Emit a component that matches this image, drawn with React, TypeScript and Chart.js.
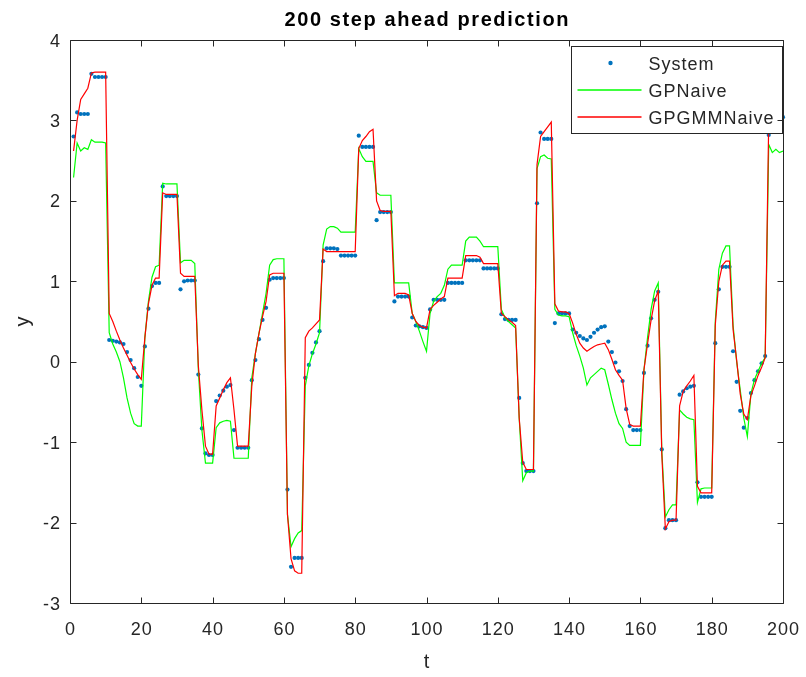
import React, { useEffect, useRef } from "react";
import { Chart, registerables } from "chart.js";

Chart.register(...registerables);

// time steps 1..200
const steps: number[] = Array.from({ length: 200 }, (_, i) => i + 1);

const systemY: number[] = [
  2.8, 3.1, 3.08, 3.08, 3.08, 3.58, 3.54, 3.54, 3.54, 3.54,
  0.27, 0.26, 0.25, 0.24, 0.22, 0.12, 0.02, -0.08, -0.19, -0.3,
  0.19, 0.66, 0.94, 0.98, 0.98, 2.18, 2.06, 2.06, 2.06, 2.06,
  0.9, 1.0, 1.01, 1.01, 1.01, -0.16, -0.83, -1.14, -1.16, -1.16,
  -0.49, -0.42, -0.36, -0.31, -0.29, -0.85, -1.07, -1.07, -1.07, -1.07,
  -0.23, 0.02, 0.28, 0.52, 0.67, 1.02, 1.04, 1.04, 1.04, 1.04,
  -1.59, -2.55, -2.44, -2.44, -2.44, -0.2, -0.04, 0.11, 0.24, 0.38,
  1.25, 1.41, 1.41, 1.41, 1.4, 1.32, 1.32, 1.32, 1.32, 1.32,
  2.81, 2.67, 2.67, 2.67, 2.67, 1.76, 1.86, 1.86, 1.86, 1.86,
  0.75, 0.81, 0.81, 0.81, 0.81, 0.55, 0.45, 0.44, 0.43, 0.42,
  0.65, 0.77, 0.77, 0.77, 0.77, 0.98, 0.98, 0.98, 0.98, 0.98,
  1.26, 1.26, 1.26, 1.26, 1.26, 1.16, 1.16, 1.16, 1.16, 1.16,
  0.59, 0.53, 0.52, 0.52, 0.52, -0.45, -1.26, -1.36, -1.36, -1.36,
  1.97, 2.85, 2.77, 2.77, 2.77, 0.48, 0.6, 0.6, 0.6, 0.6,
  0.4, 0.36, 0.32, 0.29, 0.27, 0.31, 0.36, 0.4, 0.43, 0.44,
  0.25, 0.12, -0.01, -0.12, -0.24, -0.59, -0.8, -0.85, -0.85, -0.85,
  -0.14, 0.2, 0.54, 0.77, 0.87, -1.09, -2.07, -1.97, -1.97, -1.97,
  -0.41, -0.37, -0.33, -0.31, -0.3, -1.5, -1.68, -1.68, -1.68, -1.68,
  0.23, 0.9, 1.18, 1.18, 1.18, 0.13, -0.25, -0.61, -0.82, -0.7,
  -0.39, -0.23, -0.12, -0.02, 0.07, 2.82, 3.0, 3.03, 3.04, 3.04,
];

const gpNaive: number[] = [
  2.29, 2.72, 2.62, 2.66, 2.64, 2.76, 2.73, 2.73, 2.73, 2.72,
  0.36, 0.22, 0.12, 0.0, -0.2, -0.45, -0.64, -0.77, -0.8, -0.8,
  0.3, 0.75, 1.05, 1.18, 1.2, 2.22, 2.21, 2.21, 2.21, 2.21,
  1.23, 1.26, 1.26, 1.26, 1.22, -0.1, -0.85, -1.26, -1.26, -1.26,
  -0.82, -0.76, -0.74, -0.73, -0.74, -1.2, -1.2, -1.2, -1.2, -1.2,
  -0.2, 0.1, 0.35, 0.6, 0.85, 1.2, 1.27, 1.28, 1.28, 1.28,
  -1.9, -2.3, -2.2, -2.13, -2.1, -0.3, -0.05, 0.1, 0.22, 0.36,
  1.45, 1.65, 1.68, 1.68, 1.66, 1.61, 1.61, 1.61, 1.61, 1.61,
  2.65, 2.55, 2.49, 2.49, 2.49, 2.1, 2.07, 2.07, 2.07, 2.07,
  0.98, 0.98, 0.98, 0.98, 0.98, 0.6, 0.5, 0.38, 0.25, 0.13,
  0.6, 0.75, 0.81, 0.85, 0.95, 1.15, 1.2, 1.2, 1.2, 1.2,
  1.5, 1.55, 1.55, 1.55, 1.5, 1.43, 1.43, 1.43, 1.43, 1.43,
  0.65, 0.55, 0.5, 0.46, 0.42, -0.7, -1.48, -1.38, -1.36, -1.36,
  2.4, 2.55, 2.57, 2.53, 2.52, 0.65, 0.58, 0.57, 0.57, 0.56,
  0.36, 0.2, 0.07, -0.08, -0.29, -0.2, -0.16, -0.12, -0.08, -0.1,
  -0.28, -0.47, -0.64, -0.77, -0.83, -1.0, -1.04, -1.04, -1.04, -1.04,
  -0.1, 0.3, 0.65, 0.88, 0.98, -1.1, -1.93, -1.84, -1.78, -1.78,
  -0.6, -0.65, -0.69, -0.71, -0.72, -1.75, -1.58, -1.57, -1.57, -1.57,
  0.5, 1.15, 1.35, 1.44, 1.44, 0.45, 0.0, -0.35, -0.7, -0.93,
  -0.4, -0.22, -0.12, -0.02, 0.05, 2.7, 2.6, 2.64, 2.6, 2.62,
];

const gpGmmNaive: number[] = [
  2.62, 3.0, 3.26, 3.33, 3.4, 3.59, 3.6, 3.6, 3.6, 3.6,
  0.6, 0.5, 0.38, 0.27, 0.17, 0.08, -0.01, -0.09, -0.16, -0.22,
  0.3, 0.72, 0.95, 1.04, 1.04, 2.1, 2.08, 2.08, 2.08, 2.08,
  1.1, 1.06, 1.06, 1.06, 1.06, -0.05, -0.6, -1.05, -1.15, -1.15,
  -0.55, -0.45, -0.35, -0.26, -0.2, -0.6, -1.05, -1.05, -1.05, -1.05,
  -0.3, 0.1, 0.35, 0.56, 0.75, 1.08, 1.1, 1.1, 1.1, 1.1,
  -1.9, -2.45, -2.6, -2.63, -2.63, 0.3, 0.38, 0.42, 0.47, 0.52,
  1.4, 1.37, 1.37, 1.37, 1.37, 1.37, 1.37, 1.37, 1.37, 1.37,
  2.65, 2.75, 2.8, 2.86, 2.89, 2.0, 1.88, 1.87, 1.87, 1.87,
  0.82, 0.85, 0.85, 0.85, 0.83, 0.6, 0.5, 0.45, 0.43, 0.42,
  0.65, 0.7, 0.74, 0.78, 0.81, 1.04, 1.04, 1.04, 1.04, 1.04,
  1.32, 1.32, 1.32, 1.32, 1.3, 1.22, 1.22, 1.22, 1.22, 1.22,
  0.6, 0.56, 0.52, 0.49, 0.45, -0.7, -1.25, -1.34, -1.34, -1.34,
  2.45, 2.8, 2.86, 2.92, 2.98, 0.72, 0.63, 0.62, 0.62, 0.6,
  0.48, 0.34, 0.23, 0.17, 0.13, 0.16, 0.19, 0.21, 0.22, 0.23,
  0.15, 0.03, -0.1, -0.17, -0.23, -0.58, -0.78, -0.8, -0.8, -0.8,
  -0.1, 0.22, 0.52, 0.76, 0.88, -1.15, -2.08, -1.99, -1.97, -1.97,
  -0.55, -0.37, -0.3, -0.24, -0.17, -1.55, -1.63, -1.63, -1.63, -1.63,
  0.45, 1.0, 1.2, 1.25, 1.25, 0.4, 0.02, -0.4, -0.65, -0.72,
  -0.42, -0.3, -0.17, -0.07, 0.05, 3.0, 3.15, 3.22, 3.28, 3.32,
];

const xTicks: number[] = [0, 20, 40, 60, 80, 100, 120, 140, 160, 180, 200];
const yTicks: number[] = [-3, -2, -1, 0, 1, 2, 3, 4];
const seriesNames: string[] = ["System", "GPNaive", "GPGMMNaive"];
const titleText = "200 step ahead prediction";
const xLabel = "t";
const yLabel = "y";

const BLUE = "#0072BD";
const GREEN = "#00FF00";
const RED = "#FF0000";
const INK = "#262626";
const FONT = '"Liberation Sans", Arial, Helvetica, sans-serif';
const TICK = 6;

function spacing(ctx: any, px: number) {
  try {
    ctx.letterSpacing = `${px}px`;
  } catch (e) {
    /* ignore */
  }
}

const matlabFrame = {
  id: "matlabFrame",
  beforeDraw(chart: any) {
    const { ctx, width, height } = chart;
    ctx.save();
    ctx.fillStyle = "#ffffff";
    ctx.fillRect(0, 0, width, height);
    ctx.restore();
  },
  afterDraw(chart: any) {
    const { ctx, chartArea: a, scales } = chart;
    const xs = scales.x;
    const ys = scales.y;
    const L = Math.round(a.left) + 0.5;
    const R = Math.round(a.right) + 0.5;
    const T = Math.round(a.top) + 0.5;
    const B = Math.round(a.bottom) + 0.5;
    ctx.save();

    // legend box (drawn over data, like MATLAB's opaque legend)
    const lx = Math.round(a.right) - 212 + 0.5;
    const ly = Math.round(a.top) + 6 + 0.5;
    const lw = 211;
    const lh = 87;
    ctx.fillStyle = "#ffffff";
    ctx.fillRect(lx, ly, lw, lh);
    ctx.strokeStyle = INK;
    ctx.lineWidth = 1;
    ctx.strokeRect(lx, ly, lw, lh);
    const rows = [Math.round(ly + 16), Math.round(ly + 43), Math.round(ly + 70)];
    // System dot
    ctx.fillStyle = BLUE;
    ctx.beginPath();
    ctx.arc(lx + 39, rows[0], 2.2, 0, Math.PI * 2);
    ctx.fill();
    // line samples
    ctx.lineWidth = 1.5;
    ctx.strokeStyle = GREEN;
    ctx.beginPath();
    ctx.moveTo(lx + 6, rows[1]);
    ctx.lineTo(lx + 70, rows[1]);
    ctx.stroke();
    ctx.strokeStyle = RED;
    ctx.beginPath();
    ctx.moveTo(lx + 6, rows[2]);
    ctx.lineTo(lx + 70, rows[2]);
    ctx.stroke();
    ctx.fillStyle = INK;
    ctx.font = `18px ${FONT}`;
    spacing(ctx, 1);
    ctx.textAlign = "left";
    ctx.textBaseline = "alphabetic";
    seriesNames.forEach((n, i) => ctx.fillText(n, lx + 77, rows[i] + 7));

    // axes box and inward ticks on all sides
    ctx.strokeStyle = INK;
    ctx.lineWidth = 1;
    ctx.beginPath();
    ctx.rect(L, T, R - L, B - T);
    for (const v of xTicks) {
      const px = Math.round(xs.getPixelForValue(v)) + 0.5;
      ctx.moveTo(px, B);
      ctx.lineTo(px, B - TICK);
      ctx.moveTo(px, T);
      ctx.lineTo(px, T + TICK);
    }
    for (const v of yTicks) {
      const py = Math.round(ys.getPixelForValue(v)) + 0.5;
      ctx.moveTo(L, py);
      ctx.lineTo(L + TICK, py);
      ctx.moveTo(R, py);
      ctx.lineTo(R - TICK, py);
    }
    ctx.stroke();

    // tick labels
    ctx.fillStyle = INK;
    ctx.font = `18px ${FONT}`;
    spacing(ctx, 1);
    ctx.textAlign = "center";
    ctx.textBaseline = "alphabetic";
    for (const v of xTicks) {
      ctx.fillText(String(v), xs.getPixelForValue(v) + 0.5, a.bottom + 32);
    }
    ctx.textAlign = "right";
    for (const v of yTicks) {
      ctx.fillText(String(v), a.left - 9, ys.getPixelForValue(v) + 6.5);
    }

    // axis labels
    ctx.font = `20px ${FONT}`;
    spacing(ctx, 0);
    ctx.textAlign = "center";
    ctx.fillText(xLabel, (a.left + a.right) / 2, a.bottom + 65);
    ctx.save();
    ctx.translate(a.left - 47, (a.top + a.bottom) / 2);
    ctx.rotate(-Math.PI / 2);
    ctx.textBaseline = "middle";
    ctx.fillText(yLabel, 0, 0);
    ctx.restore();

    // title
    ctx.fillStyle = "#000000";
    ctx.font = `bold 20px ${FONT}`;
    spacing(ctx, 1.6);
    ctx.textAlign = "center";
    ctx.textBaseline = "alphabetic";
    ctx.fillText(titleText, (a.left + a.right) / 2 + 0.8, a.top - 14);
    ctx.restore();
  },
};

export default function App() {
  const canvasRef = useRef<HTMLCanvasElement | null>(null);

  useEffect(() => {
    const canvas = canvasRef.current;
    if (!canvas) return;
    const toPoints = (vals: number[]) => vals.map((v, i) => ({ x: steps[i], y: v }));
    const chart = new Chart(canvas, {
      type: "line",
      data: {
        datasets: [
          {
            label: seriesNames[0],
            data: toPoints(systemY),
            showLine: false,
            pointRadius: 2.1,
            pointHoverRadius: 2.1,
            pointBackgroundColor: BLUE,
            pointBorderWidth: 0,
            borderColor: BLUE,
            order: 3,
            clip: 4,
          },
          {
            label: seriesNames[1],
            data: toPoints(gpNaive),
            borderColor: GREEN,
            borderWidth: 1.2,
            pointRadius: 0,
            tension: 0,
            fill: false,
            order: 2,
            clip: 0,
          },
          {
            label: seriesNames[2],
            data: toPoints(gpGmmNaive),
            borderColor: RED,
            borderWidth: 1.2,
            pointRadius: 0,
            tension: 0,
            fill: false,
            order: 1,
            clip: 0,
          },
        ],
      },
      options: {
        animation: false,
        responsive: false,
        devicePixelRatio: 1,
        layout: { padding: { left: 70, top: 40, right: 23, bottom: 74 } },
        plugins: {
          legend: { display: false },
          title: { display: false },
          tooltip: { enabled: false },
        },
        events: [],
        scales: {
          x: { type: "linear", min: 0, max: 200, display: false },
          y: { type: "linear", min: -3, max: 4, display: false },
        },
      },
      plugins: [matlabFrame],
    } as any);
    return () => chart.destroy();
  }, []);

  return (
    <div
      style={{
        position: "fixed",
        left: 0,
        top: 0,
        width: 806,
        height: 677,
        background: "#ffffff",
      }}
    >
      <canvas ref={canvasRef} width={806} height={677} style={{ width: 806, height: 677 }} />
    </div>
  );
}
